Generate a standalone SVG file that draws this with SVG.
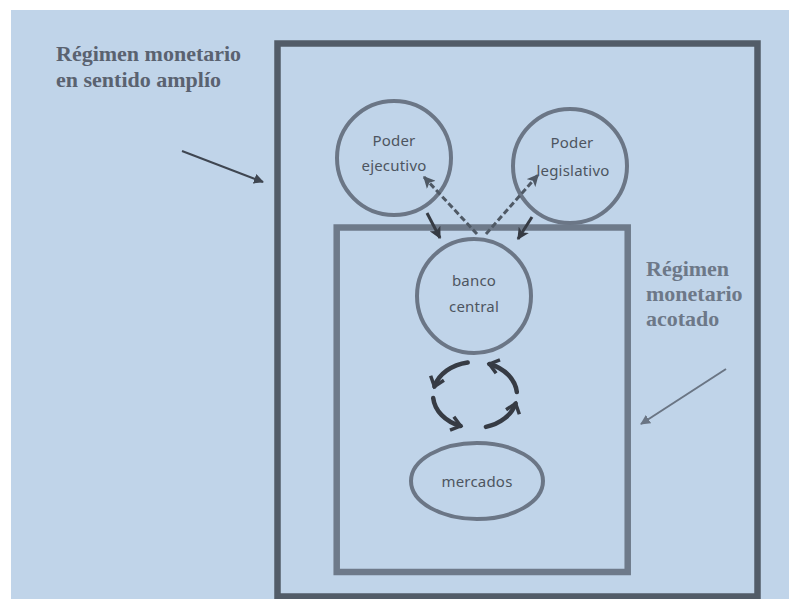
<svg xmlns="http://www.w3.org/2000/svg" width="789" height="599" viewBox="0 0 789 599">
<style>
.title{font-family:"Liberation Serif","Times New Roman",serif;font-weight:bold;font-size:22px;}
.lbl{font-family:"Noto Sans","Open Sans",sans-serif;font-size:15px;fill:#4d5560;text-anchor:middle;letter-spacing:0.2px;}
.node{fill:none;stroke:#6b7686;stroke-width:4;}
.cyc{fill:none;stroke:#363b44;stroke-width:4.5;stroke-linecap:round;}
</style>
<defs>
<marker id="chev" markerUnits="userSpaceOnUse" markerWidth="18" markerHeight="18" viewBox="0 0 18 18" refX="12" refY="9" orient="auto">
<path d="M3,2 L12,9 L3,16" fill="none" stroke="#363b44" stroke-width="3.5" stroke-linejoin="miter"/>
</marker>
<marker id="tri" markerUnits="userSpaceOnUse" markerWidth="12" markerHeight="12" viewBox="0 0 10 10" refX="9" refY="5" orient="auto">
<path d="M0,0 L10,5 L0,10 L2.5,5 z" fill="#363b44"/>
</marker>
<marker id="triD" markerUnits="userSpaceOnUse" markerWidth="12" markerHeight="12" viewBox="0 0 10 10" refX="9" refY="5" orient="auto">
<path d="M0,0 L10,5 L0,10 L2.5,5 z" fill="#4f5965"/>
</marker>
<marker id="thinA" markerUnits="userSpaceOnUse" markerWidth="10" markerHeight="10" viewBox="0 0 10 10" refX="9" refY="5" orient="auto">
<path d="M0,0 L10,5 L0,10 z" fill="#3f4651"/>
</marker>
<marker id="thinB" markerUnits="userSpaceOnUse" markerWidth="10" markerHeight="10" viewBox="0 0 10 10" refX="9" refY="5" orient="auto">
<path d="M0,0 L10,5 L0,10 z" fill="#6a7584"/>
</marker>
</defs>
<rect x="0" y="0" width="789" height="599" fill="#ffffff"/>
<rect x="11" y="10" width="778" height="589" fill="#c0d4e9"/>

<g id="regimen-amplio">
<rect x="277.5" y="43.5" width="480" height="553" fill="none" stroke="#525c68" stroke-width="6.5"/>
<text class="title" fill="#5a6270" x="56" y="61">Régimen monetario</text>
<text class="title" fill="#5a6270" x="56" y="87">en sentido amplío</text>
</g>

<g id="regimen-acotado">
<rect x="336.7" y="227.5" width="291" height="344.5" fill="none" stroke="#6e7a8a" stroke-width="6.5"/>
<text class="title" fill="#6d7888" x="646" y="276">Régimen</text>
<text class="title" fill="#6d7888" x="646" y="301">monetario</text>
<text class="title" fill="#6d7888" x="646" y="326">acotado</text>
</g>

<g id="poder-ejecutivo">
<circle class="node" cx="394" cy="158" r="57"/>
<text class="lbl" x="394" y="146">Poder</text>
<text class="lbl" x="394" y="171">ejecutivo</text>
</g>

<g id="poder-legislativo">
<circle class="node" cx="570" cy="166" r="57"/>
<text class="lbl" x="572" y="148">Poder</text>
<text class="lbl" x="573" y="176">legislativo</text>
</g>

<g id="banco-central">
<circle class="node" cx="474" cy="296" r="57"/>
<text class="lbl" x="474" y="286" font-size="16">banco</text>
<text class="lbl" x="474" y="312" font-size="16">central</text>
</g>

<g id="mercados">
<ellipse class="node" cx="477" cy="481" rx="66" ry="38"/>
<text class="lbl" x="477" y="487" font-size="15.5">mercados</text>
</g>

<g id="connectors">
<line x1="182" y1="151" x2="263" y2="182" stroke="#3f4651" stroke-width="2" marker-end="url(#thinA)"/>
<line x1="726" y1="369" x2="641" y2="424" stroke="#6a7584" stroke-width="2" marker-end="url(#thinB)"/>
<line x1="427" y1="213" x2="440" y2="238" stroke="#363b44" stroke-width="3" marker-end="url(#tri)"/>
<line x1="532" y1="217" x2="518" y2="239" stroke="#363b44" stroke-width="3" marker-end="url(#tri)"/>
<line x1="477" y1="234" x2="424" y2="177" stroke="#4f5965" stroke-width="3" stroke-dasharray="6 3" marker-end="url(#triD)"/>
<line x1="486" y1="234" x2="538" y2="175" stroke="#4f5965" stroke-width="3" stroke-dasharray="6 3" marker-end="url(#triD)"/>
<path class="cyc" d="M467.7,362.5 A42,33 0 0 0 434.4,386.5" marker-end="url(#chev)"/>
<path class="cyc" d="M433.2,397.9 A42,33 0 0 0 460.6,426" marker-end="url(#chev)"/>
<path class="cyc" d="M485.9,426.9 A42,33 0 0 0 515.6,403.5" marker-end="url(#chev)"/>
<path class="cyc" d="M516.8,392.1 A42,33 0 0 0 489.4,364" marker-end="url(#chev)"/>
</g>
</svg>
